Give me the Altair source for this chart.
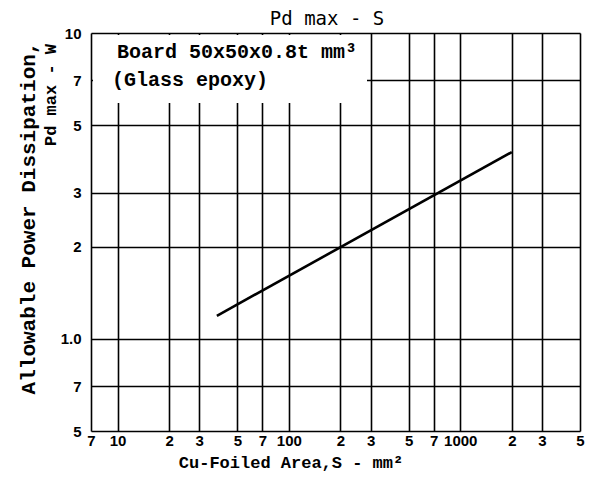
import altair as alt
import pandas as pd

# ---- data ----
area_mm2 = [38, 2000]          # Cu-foiled area S (mm^2)
pd_max_w = [1.19, 4.08]        # allowable power dissipation (W)

x_ticks = [7, 10, 20, 30, 50, 70, 100, 200, 300, 500, 700, 1000, 2000, 3000, 5000]
x_labels = ["7", "10", "2", "3", "5", "7", "100", "2", "3", "5", "7", "1000", "2", "3", "5"]
y_ticks = [0.5, 0.7, 1, 2, 3, 5, 7, 10]
y_labels = ["5", "7", "1.0", "2", "3", "5", "7", "10"]

title_text = "Pd max - S"
x_title = "Cu-Foiled Area,S - mm\u00b2"
y_title_1 = "Allowable Power Dissipation,"
y_title_2 = "Pd max - W"
note_1 = "Board 50x50x0.8t mm\u00b3"
note_2 = "(Glass epoxy)"


def label_expr(ticks, labels):
    parts = [f"abs(datum.value - {t}) < {t * 1e-4} ? '{l}'" for t, l in zip(ticks, labels)]
    return " : ".join(parts) + " : ''"


W, H = 489, 398
MONO = "Liberation Mono"
SANS = "Liberation Sans"

df = pd.DataFrame({"S": area_mm2, "P": pd_max_w})
one = pd.DataFrame({"k": [0]})

xscale = alt.Scale(type="log", domain=[7, 5000], nice=False)
yscale = alt.Scale(type="log", domain=[0.5, 10], nice=False)

common_axis = dict(
    grid=True, gridColor="black", gridWidth=1.6, gridOpacity=1,
    ticks=False, domain=False, labelFont=SANS, labelFontSize=15,
    labelFontWeight="bold", labelColor="black", labelOverlap=False,
    labelFlush=False, title=None,
)

line = alt.Chart(df).mark_line(color="black", strokeWidth=2.6).encode(
    x=alt.X("S:Q", scale=xscale,
            axis=alt.Axis(values=x_ticks, labelExpr=label_expr(x_ticks, x_labels),
                          labelPadding=2, **common_axis)),
    y=alt.Y("P:Q", scale=yscale,
            axis=alt.Axis(values=y_ticks, labelExpr=label_expr(y_ticks, y_labels),
                          labelPadding=10, **common_axis)),
)

box = alt.Chart(one).mark_rect(fill="white", stroke=None).encode(
    x=alt.value(2), x2=alt.value(276), y=alt.value(2), y2=alt.value(70)
)

def txt(text, x, y, size, font=MONO, weight="bold", angle=0, align="left"):
    return alt.Chart(one).mark_text(
        text=text, font=font, fontSize=size, fontWeight=weight, color="black",
        angle=angle, align=align, baseline="middle"
    ).encode(x=alt.value(x), y=alt.value(y))

layers = [
    box,
    txt(note_1, 26, 19, 20),
    txt(note_2, 21, 47, 20),
    txt(title_text, 236, -14, 19, font="DejaVu Sans Mono", weight="normal", align="center"),
    txt(x_title, 200, 430, 17, align="center"),
    txt(y_title_1, -62, 185, 21, angle=270, align="center"),
    txt(y_title_2, -40, 62, 17, angle=270, align="center"),
    line,
]

chart = alt.layer(*layers).properties(
    width=W, height=H,
    autosize=alt.AutoSizeParams(type="none"),
    padding={"left": 83, "top": 25, "right": 5, "bottom": 45},
).configure_view(stroke="black", strokeWidth=2.2).configure(background="white")

chart.save("out.html", embed_options={"renderer": "svg", "actions": False})
